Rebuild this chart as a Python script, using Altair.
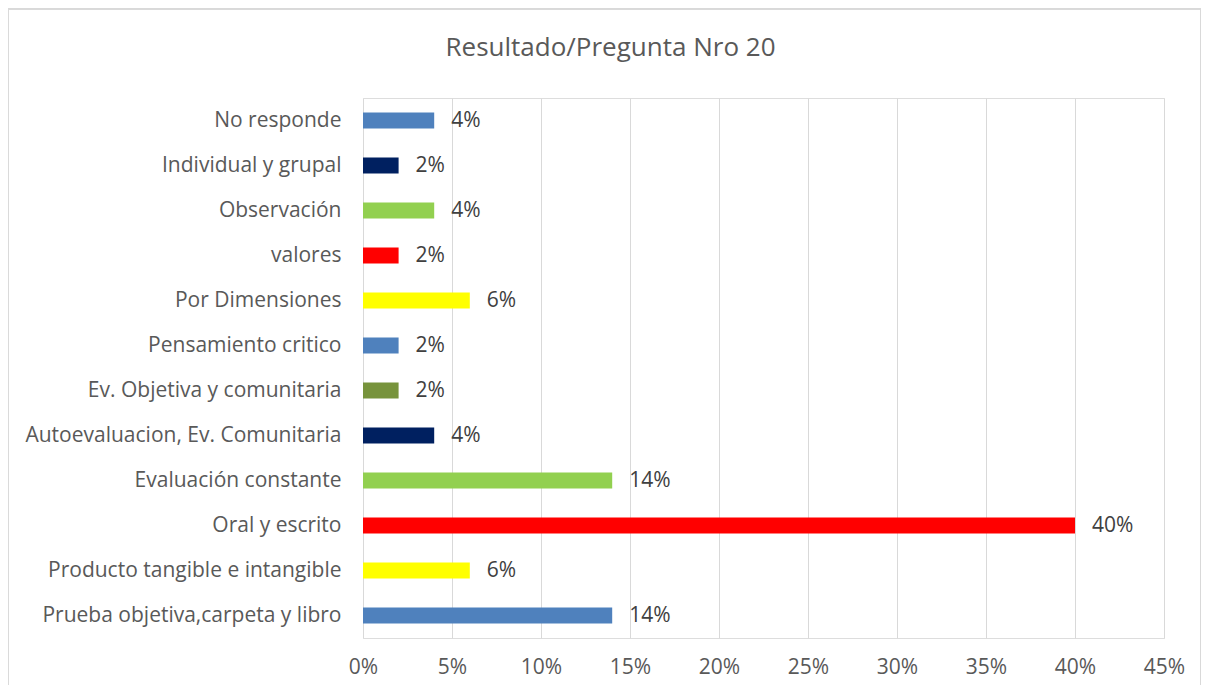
import altair as alt
import pandas as pd

categories = [
    "No responde",
    "Individual y grupal",
    "Observación",
    "valores",
    "Por Dimensiones",
    "Pensamiento critico",
    "Ev. Objetiva y comunitaria",
    "Autoevaluacion, Ev. Comunitaria",
    "Evaluación constante",
    "Oral y escrito",
    "Producto tangible e intangible",
    "Prueba objetiva,carpeta y libro",
]
values = [0.04, 0.02, 0.04, 0.02, 0.06, 0.02, 0.02, 0.04, 0.14, 0.40, 0.06, 0.14]
colors = ["#4F81BD", "#002060", "#92D050", "#FF0000", "#FFFF00", "#4F81BD",
          "#77933C", "#002060", "#92D050", "#FF0000", "#FFFF00", "#4F81BD"]
x_ticks = [0, 0.05, 0.10, 0.15, 0.20, 0.25, 0.30, 0.35, 0.40, 0.45]

df = pd.DataFrame({"cat": categories, "val": values})

FONT = "Open Sans"
TXT = "#595959"
FS = 21

y = alt.Y("cat:N", sort=categories, title=None,
          scale=alt.Scale(paddingInner=0.64, paddingOuter=0.32),
          axis=alt.Axis(labelFont=FONT, labelFontSize=FS, labelColor=TXT,
                        labelPadding=22, ticks=False, domain=False, grid=False,
                        labelLimit=400))
x = alt.X("val:Q", title=None,
          scale=alt.Scale(domain=[0, 0.45], nice=False),
          axis=alt.Axis(values=x_ticks, format=".0%", labelFont=FONT, labelFontSize=FS,
                        labelColor=TXT, labelPadding=18, ticks=False, domain=False,
                        labelFlush=False,
                        grid=True, gridColor="#d9d9d9", gridWidth=1))

bars = alt.Chart(df).mark_bar().encode(
    x=x, y=y,
    color=alt.Color("cat:N", scale=alt.Scale(domain=categories, range=colors), legend=None),
)
labels = alt.Chart(df).mark_text(align="left", dx=17, font=FONT, fontSize=FS, color="#404040").encode(
    x="val:Q", y=alt.Y("cat:N", sort=categories), text=alt.Text("val:Q", format=".0%")
)
frame = alt.Chart(df).mark_rect(fill=None, stroke="#d9d9d9", strokeWidth=1).encode(
    x=alt.value(-355), x2=alt.value(838), y=alt.value(-89), y2=alt.value(620)
)

chart = alt.layer(frame, bars, labels).properties(
    width=801, height=540,
    padding={"left": 355, "top": 90, "right": 37, "bottom": 47},
    autosize=alt.AutoSizeParams(type="none"),
    title=alt.TitleParams("Resultado/Pregunta Nro 20", font=FONT, fontSize=26,
                          fontWeight="normal", color=TXT, anchor="middle", frame="group",
                          dx=-153, offset=-52),
).configure_view(stroke=None).configure(background="white")

chart.save("out.html", embed_options={"renderer": "svg", "actions": False})
